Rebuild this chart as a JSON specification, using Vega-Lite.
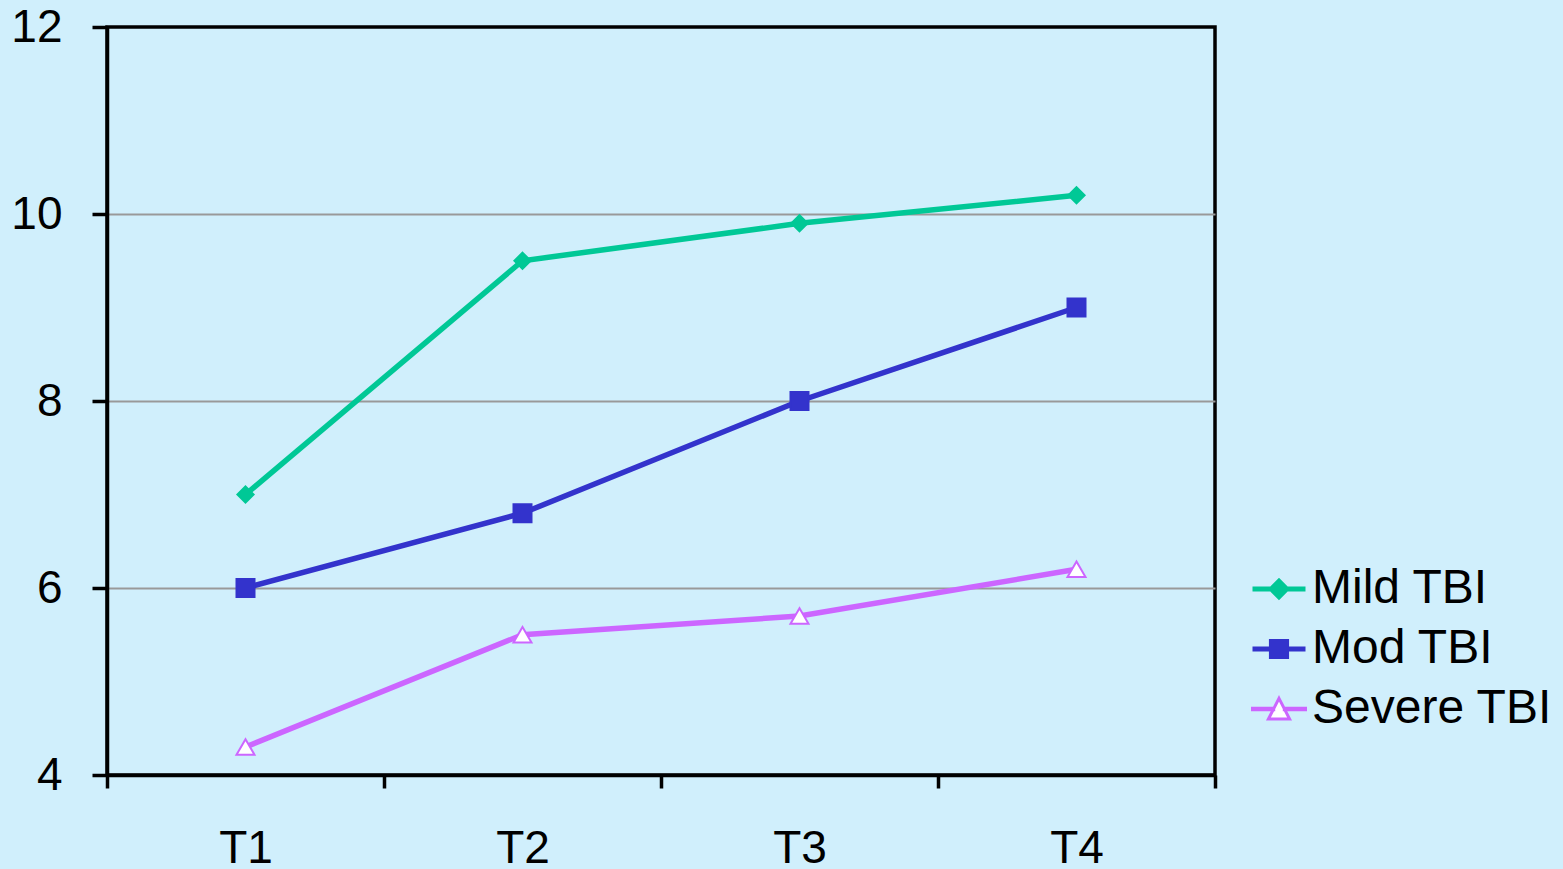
{
  "$schema": "https://vega.github.io/schema/vega-lite/v6.json",
  "autosize": {"type": "none"},
  "padding": {"left": 107, "top": 27, "right": 348, "bottom": 94},
  "width": 1108,
  "height": 748,
  "background": "#d0effc",
  "config": {
    "font": "Liberation Sans",
    "view": {"stroke": "#000000", "strokeWidth": 3.5},
    "axis": {"labelFont": "Liberation Sans", "labelFontSize": 46, "labelColor": "#000000", "title": null, "domainColor": "#000000", "domainWidth": 3.5, "tickColor": "#000000", "tickWidth": 3.5},
    "legend": {"labelFont": "Liberation Sans", "labelFontSize": 48, "labelColor": "#000000", "labelLimit": 400}
  },
  "data": {
    "values": [
      {"time": "T1", "group": "Mild TBI", "value": 7.0},
      {"time": "T2", "group": "Mild TBI", "value": 9.5},
      {"time": "T3", "group": "Mild TBI", "value": 9.9},
      {"time": "T4", "group": "Mild TBI", "value": 10.2},
      {"time": "T1", "group": "Mod TBI", "value": 6.0},
      {"time": "T2", "group": "Mod TBI", "value": 6.8},
      {"time": "T3", "group": "Mod TBI", "value": 8.0},
      {"time": "T4", "group": "Mod TBI", "value": 9.0},
      {"time": "T1", "group": "Severe TBI", "value": 4.3},
      {"time": "T2", "group": "Severe TBI", "value": 5.5},
      {"time": "T3", "group": "Severe TBI", "value": 5.7},
      {"time": "T4", "group": "Severe TBI", "value": 6.2}
    ]
  },
  "encoding": {
    "x": {
      "field": "time", "type": "nominal",
      "scale": {"type": "band", "paddingInner": 0, "paddingOuter": 0},
      "bandPosition": 0.5,
      "axis": {"labelAngle": 0, "tickBand": "extent", "tickSize": 13, "labelPadding": 38, "grid": false}
    },
    "y": {
      "field": "value", "type": "quantitative",
      "scale": {"domain": [4, 12], "nice": false, "zero": false},
      "axis": {"values": [4, 6, 8, 10, 12], "tickSize": 15, "labelPadding": 30, "grid": true, "gridColor": "#999999", "gridWidth": 2,
        "gridOpacity": {"condition": {"test": "datum.value === 12 || datum.value === 4", "value": 0}, "value": 1}}
    }
  },
  "layer": [
    {
      "mark": {"type": "line", "strokeWidth": 5.5},
      "encoding": {
        "color": {
          "field": "group", "type": "nominal",
          "scale": {"domain": ["Mild TBI", "Mod TBI", "Severe TBI"], "range": ["#00c896", "#3333cc", "#cc66ff"]},
          "legend": {
            "title": null,
            "orient": "none",
            "legendX": 1148,
            "legendY": 538,
            "padding": 0,
            "symbolSize": 2809,
            "labelOffset": 9,
            "rowPadding": 12,
            "encode": {
              "symbols": {
                "update": {
                  "shape": {"signal": "datum.value === 'Mild TBI' ? 'M-1,-0.094H1V0.094H-1Z M0,-0.42L0.42,0L0,0.42L-0.42,0Z' : datum.value === 'Mod TBI' ? 'M-1,-0.094H1V0.094H-1Z M-0.38,-0.38H0.38V0.38H-0.38Z' : 'M-1,-0.03H-0.2V0.03H-1Z M0.2,-0.03H1V0.03H0.2Z M0,-0.4L0.4,0.38L-0.4,0.38Z'"},
                  "fill": {"signal": "datum.value === 'Mild TBI' ? '#00c896' : datum.value === 'Mod TBI' ? '#3333cc' : '#ffffff'"},
                  "stroke": {"signal": "datum.value === 'Severe TBI' ? '#cc66ff' : 'transparent'"},
                  "strokeWidth": {"signal": "datum.value === 'Severe TBI' ? 3 : 0"},
                  "size": {"value": 2809},
                  "opacity": {"value": 1},
                  "fillOpacity": {"value": 1},
                  "strokeOpacity": {"value": 1}
                }
              }
            }
          }
        }
      }
    },
    {
      "transform": [{"filter": "datum.group === 'Mild TBI'"}],
      "mark": {"type": "point", "filled": true, "shape": "M0,-0.9L0.9,0L0,0.9L-0.9,0Z", "size": 324, "fill": "#00c896", "stroke": "#00c896", "strokeWidth": 2, "opacity": 1}
    },
    {
      "transform": [{"filter": "datum.group === 'Mod TBI'"}],
      "mark": {"type": "point", "filled": true, "shape": "square", "size": 324, "fill": "#3333cc", "stroke": "#3333cc", "strokeWidth": 2, "opacity": 1}
    },
    {
      "transform": [{"filter": "datum.group === 'Severe TBI'"}],
      "mark": {"type": "point", "filled": true, "shape": "triangle-up", "size": 324, "fill": "#ffffff", "stroke": "#cc66ff", "strokeWidth": 2, "opacity": 1}
    }
  ]
}
